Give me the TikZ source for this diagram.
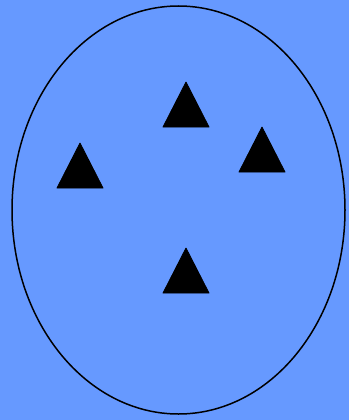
\documentclass[tikz,border=0pt]{standalone}
\definecolor{bgblue}{HTML}{6699FF}
\tikzset{tri/.style={fill=black,draw=black,line width=0.8pt,line join=round},
  outline/.style={draw=black,line width=1.5pt}}
\begin{document}
\begin{tikzpicture}[x=1pt,y=-1pt]
\fill[bgblue] (0,0) rectangle (349,420);
\useasboundingbox (0,0) rectangle (349,420);
\draw[outline] (178.5,210) ellipse [x radius=166.5, y radius=204];
\newcommand{\mytri}[2]{\filldraw[tri] (#1,#2) -- ++(-23,45) -- ++(46,0) -- cycle;}
\mytri{186}{82}
\mytri{80}{143}
\mytri{262}{127}
\mytri{186}{248}
\end{tikzpicture}
\end{document}
